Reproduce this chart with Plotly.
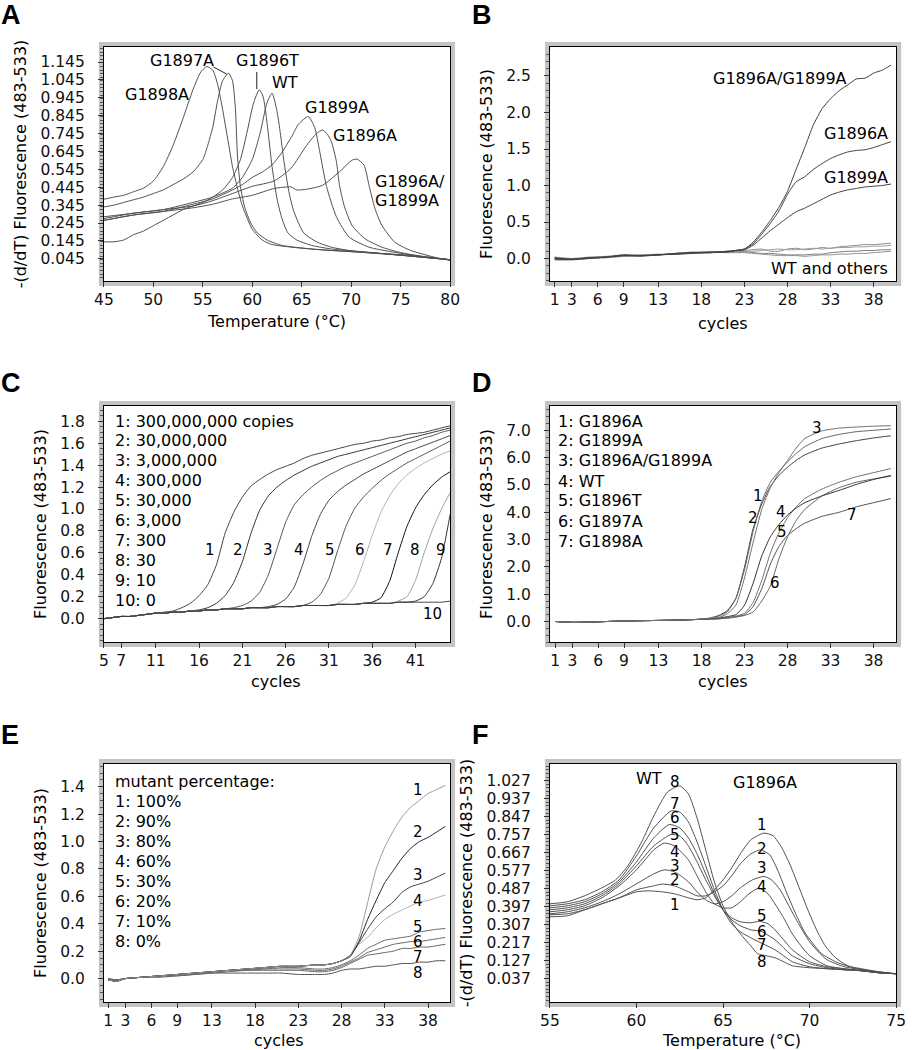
import numpy as np
import plotly.graph_objects as go

# ======================= DATA =======================
# ---- Panel A: melting curves, -(d/dT) fluorescence vs temperature ----
a_g1898a_t = [45, 46, 47, 48, 49, 50, 51, 52, 53, 54, 54.8, 55.4, 56, 56.5, 57, 57.5, 58, 58.5, 59, 59.5, 60, 61, 62, 64, 67, 70, 73, 76, 78, 80]
a_g1898a_v = [0.378, 0.39, 0.40, 0.42, 0.44, 0.48, 0.56, 0.68, 0.83, 0.99, 1.09, 1.12, 1.10, 1.02, 0.88, 0.72, 0.56, 0.44, 0.34, 0.27, 0.21, 0.15, 0.125, 0.11, 0.095, 0.085, 0.075, 0.065, 0.05, 0.04]
a_g1897a_t = [45, 46, 47, 48, 49, 50, 51, 52, 53, 54, 55, 55.5, 56, 56.5, 57, 57.6, 58, 58.3, 58.5, 58.8, 59.2, 59.8, 60.5, 61.5, 63, 66, 70, 75, 80]
a_g1897a_v = [0.335, 0.345, 0.36, 0.375, 0.39, 0.41, 0.43, 0.46, 0.49, 0.53, 0.60, 0.68, 0.78, 0.93, 1.04, 1.083, 1.04, 0.88, 0.62, 0.45, 0.34, 0.25, 0.19, 0.15, 0.12, 0.10, 0.085, 0.065, 0.04]
a_g1896t_t = [45, 46, 47, 48, 49, 50, 51, 52, 53, 54, 55, 56, 57, 58, 58.8, 59.5, 60.1, 60.7, 61.1, 61.5, 62, 62.5, 63, 63.6, 64.5, 66, 68, 71, 75, 80]
a_g1896t_v = [0.14, 0.14, 0.15, 0.18, 0.20, 0.23, 0.26, 0.29, 0.32, 0.34, 0.36, 0.39, 0.43, 0.50, 0.60, 0.76, 0.91, 0.99, 0.95, 0.80, 0.56, 0.38, 0.27, 0.19, 0.15, 0.12, 0.10, 0.085, 0.065, 0.04]
a_wt_t = [45, 48, 51, 54, 56, 58, 59, 60, 60.8, 61.5, 62.0, 62.5, 62.9, 63.2, 63.7, 64.2, 65.2, 66.5, 68, 70, 73, 76, 80]
a_wt_v = [0.27, 0.30, 0.32, 0.36, 0.39, 0.44, 0.50, 0.60, 0.75, 0.92, 0.97, 0.87, 0.72, 0.59, 0.42, 0.31, 0.19, 0.14, 0.11, 0.09, 0.075, 0.06, 0.04]
a_g1899a_t = [45, 48, 51, 54, 56, 58, 59, 60, 61, 62, 63, 64, 64.7, 65.66, 66.3, 66.8, 67.5, 68.5, 69.8, 71.8, 74, 77, 80]
a_g1899a_v = [0.26, 0.29, 0.31, 0.35, 0.38, 0.43, 0.46, 0.50, 0.53, 0.57, 0.64, 0.73, 0.80, 0.84, 0.78, 0.65, 0.45, 0.28, 0.166, 0.11, 0.085, 0.06, 0.04]
a_g1896a_t = [45, 48, 51, 54, 56, 58, 60, 62.2, 63.9, 65.5, 66.5, 67.1, 67.6, 68, 68.5, 68.8, 69.3, 70.1, 71.4, 73.1, 75, 77, 80]
a_g1896a_v = [0.28, 0.30, 0.32, 0.34, 0.37, 0.41, 0.45, 0.48, 0.55, 0.68, 0.746, 0.765, 0.74, 0.70, 0.59, 0.46, 0.34, 0.23, 0.157, 0.11, 0.08, 0.06, 0.04]
a_double_t = [45, 48, 51, 54, 56, 58, 60, 62.2, 63.9, 64.5, 65.5, 67.1, 68.8, 70.1, 70.6, 71.3, 71.8, 72.4, 73.1, 74.4, 76, 78.7, 80]
a_double_v = [0.26, 0.29, 0.31, 0.33, 0.35, 0.38, 0.40, 0.438, 0.447, 0.43, 0.434, 0.456, 0.531, 0.597, 0.602, 0.568, 0.456, 0.326, 0.232, 0.138, 0.092, 0.05, 0.036]
a_xticks = [45, 50, 55, 60, 65, 70, 75, 80]
a_yticks = [0.045, 0.145, 0.245, 0.345, 0.445, 0.545, 0.645, 0.745, 0.845, 0.945, 1.045, 1.145]

# ---- Panel B: amplification, probe assay ----
b_cycles = [1, 3, 5, 7, 9, 11, 13, 15, 17, 19, 21, 22, 23, 24, 25, 26, 27, 28, 29, 30, 31, 32, 33, 34, 35, 36, 37, 38, 39, 40]
b_double = [0.0, -0.01, 0.01, 0.02, 0.04, 0.04, 0.05, 0.07, 0.08, 0.08, 0.09, 0.11, 0.13, 0.22, 0.36, 0.52, 0.70, 0.92, 1.22, 1.52, 1.83, 2.05, 2.19, 2.30, 2.38, 2.46, 2.47, 2.54, 2.58, 2.65]
b_g1896a = [0.01, -0.01, 0.0, 0.02, 0.04, 0.03, 0.05, 0.06, 0.08, 0.09, 0.09, 0.11, 0.13, 0.20, 0.33, 0.48, 0.65, 0.88, 1.05, 1.12, 1.22, 1.30, 1.37, 1.42, 1.46, 1.48, 1.49, 1.52, 1.56, 1.60]
b_g1899a = [-0.01, -0.01, 0.01, 0.02, 0.05, 0.04, 0.05, 0.06, 0.07, 0.08, 0.10, 0.11, 0.12, 0.18, 0.28, 0.38, 0.47, 0.56, 0.64, 0.69, 0.75, 0.81, 0.87, 0.91, 0.94, 0.96, 0.98, 0.99, 1.0, 1.02]
b_wt = [0.02, 0.0, 0.02, 0.03, 0.05, 0.04, 0.05, 0.07, 0.09, 0.08, 0.10, 0.10, 0.11, 0.12, 0.13, 0.10, 0.10, 0.13, 0.14, 0.12, 0.13, 0.15, 0.14, 0.16, 0.17, 0.18, 0.19, 0.19, 0.20, 0.21]
b_g1896t = [0.0, -0.01, 0.0, 0.02, 0.04, 0.05, 0.06, 0.06, 0.08, 0.09, 0.09, 0.10, 0.10, 0.10, 0.11, 0.12, 0.13, 0.12, 0.12, 0.13, 0.14, 0.13, 0.14, 0.15, 0.15, 0.16, 0.16, 0.17, 0.17, 0.18]
b_g1897a = [-0.02, -0.02, 0.0, 0.01, 0.03, 0.04, 0.05, 0.07, 0.08, 0.08, 0.09, 0.09, 0.09, 0.08, 0.07, 0.07, 0.06, 0.05, 0.05, 0.05, 0.06, 0.06, 0.08, 0.09, 0.10, 0.10, 0.11, 0.11, 0.12, 0.12]
b_g1898a = [0.01, -0.01, 0.01, 0.02, 0.03, 0.05, 0.05, 0.06, 0.07, 0.09, 0.08, 0.08, 0.08, 0.07, 0.06, 0.05, 0.04, 0.04, 0.04, 0.03, 0.04, 0.05, 0.05, 0.06, 0.06, 0.07, 0.07, 0.08, 0.09, 0.10]
cyc_xticks = [1, 3, 6, 9, 13, 18, 23, 28, 33, 38]
b_yticks = [0.0, 0.5, 1.0, 1.5, 2.0, 2.5]

# ---- Panel C: dilution series ----
c_cycles = list(range(5, 46))
c_base = [0.00, 0.01, 0.02, 0.02, 0.03, 0.04, 0.05, 0.05, 0.06, 0.06, 0.07, 0.07, 0.08, 0.08, 0.09, 0.09, 0.09, 0.10, 0.10, 0.10,
          0.11, 0.11, 0.11, 0.12, 0.12, 0.12, 0.12, 0.13, 0.13, 0.13, 0.14, 0.14, 0.14, 0.14, 0.15, 0.15, 0.15, 0.15, 0.15, 0.15, 0.16]
c_1 = [0.00, 0.01, 0.02, 0.02, 0.03, 0.04, 0.05, 0.06, 0.07, 0.10, 0.14, 0.21, 0.31, 0.49, 0.78, 0.97, 1.11, 1.21, 1.27, 1.32,
       1.36, 1.39, 1.42, 1.46, 1.49, 1.51, 1.53, 1.55, 1.57, 1.59, 1.60, 1.62, 1.63, 1.65, 1.66, 1.68, 1.69, 1.70, 1.72, 1.74, 1.76]
c_2 = [0.00, 0.01, 0.02, 0.02, 0.03, 0.04, 0.05, 0.05, 0.06, 0.06, 0.07, 0.08, 0.10, 0.14, 0.21, 0.33, 0.52, 0.78, 0.99, 1.12,
       1.20, 1.26, 1.31, 1.35, 1.39, 1.42, 1.45, 1.48, 1.50, 1.52, 1.54, 1.56, 1.58, 1.60, 1.62, 1.64, 1.66, 1.68, 1.70, 1.72, 1.74]
c_3 = c_base[:13] + [0.08, 0.09, 0.10, 0.12, 0.16, 0.24, 0.40, 0.64, 0.88, 1.04, 1.13, 1.20, 1.26, 1.31, 1.35, 1.39, 1.42, 1.45, 1.48, 1.51, 1.54, 1.57, 1.60, 1.62, 1.65, 1.67, 1.70, 1.72]
c_4 = c_base[:17] + [0.10, 0.10, 0.11, 0.13, 0.18, 0.29, 0.50, 0.75, 0.95, 1.08, 1.16, 1.22, 1.27, 1.32, 1.36, 1.40, 1.44, 1.48, 1.52, 1.55, 1.58, 1.61, 1.64, 1.67]
c_5 = c_base[:23] + [0.12, 0.15, 0.22, 0.37, 0.62, 0.85, 1.01, 1.11, 1.19, 1.26, 1.32, 1.37, 1.42, 1.46, 1.50, 1.54, 1.58, 1.62]
c_6 = c_base[:27] + [0.14, 0.19, 0.31, 0.52, 0.76, 0.97, 1.12, 1.23, 1.31, 1.37, 1.42, 1.46, 1.50, 1.53]
c_7 = c_base[:31] + [0.15, 0.19, 0.34, 0.60, 0.84, 1.01, 1.13, 1.22, 1.29, 1.34]
c_8 = c_base[:34] + [0.16, 0.20, 0.35, 0.60, 0.82, 1.00, 1.15]
c_9 = c_base[:36] + [0.16, 0.20, 0.32, 0.55, 0.95]
c_10 = c_base
c_xticks = [5, 7, 11, 16, 21, 26, 31, 36, 41]
c_yticks = [0.0, 0.2, 0.4, 0.6, 0.8, 1.0, 1.2, 1.4, 1.6, 1.8]
c_legend = ["1: 300,000,000 copies", "2: 30,000,000", "3: 3,000,000", "4: 300,000", "5: 30,000",
            "6: 3,000", "7: 300", "8: 30", "9: 10", "10: 0"]

# ---- Panel D: genotypes ----
d_cycles = [1, 3, 5, 7, 9, 11, 13, 15, 17, 18, 19, 20, 21, 22, 23, 24, 25, 26, 27, 28, 29, 30, 32, 34, 36, 38, 40]
d_base = [0.0, -0.03, -0.02, 0.0, 0.02, 0.03, 0.04, 0.05, 0.07]
d_1 = d_base + [0.09, 0.12, 0.20, 0.35, 0.85, 1.90, 3.30, 4.40, 5.10, 5.50, 5.85, 6.15, 6.40, 6.70, 6.85, 6.95, 7.00, 7.05]
d_2 = d_base + [0.09, 0.13, 0.22, 0.40, 0.85, 2.00, 3.40, 4.30, 4.95, 5.35, 5.65, 5.90, 6.10, 6.35, 6.50, 6.62, 6.72, 6.80]
d_3 = d_base + [0.08, 0.11, 0.15, 0.28, 0.60, 1.60, 2.90, 4.10, 4.90, 5.45, 5.90, 6.35, 6.70, 6.98, 7.08, 7.12, 7.15, 7.17]
d_4 = d_base + [0.08, 0.10, 0.13, 0.18, 0.25, 0.60, 1.40, 2.40, 3.10, 3.55, 3.90, 4.15, 4.35, 4.60, 4.80, 5.02, 5.20, 5.35]
d_5 = d_base + [0.08, 0.09, 0.11, 0.14, 0.20, 0.30, 0.70, 1.50, 2.50, 3.25, 3.80, 4.20, 4.50, 4.85, 5.10, 5.30, 5.45, 5.60]
d_6 = d_base + [0.08, 0.09, 0.10, 0.12, 0.16, 0.22, 0.35, 0.75, 1.30, 2.30, 3.10, 3.70, 4.10, 4.60, 4.90, 5.10, 5.22, 5.32]
d_7 = d_base + [0.08, 0.09, 0.10, 0.13, 0.18, 0.25, 0.55, 1.20, 2.10, 2.75, 3.15, 3.40, 3.60, 3.85, 4.00, 4.20, 4.35, 4.50]
d_yticks = [0.0, 1.0, 2.0, 3.0, 4.0, 5.0, 6.0, 7.0]
d_legend = ["1: G1896A", "2: G1899A", "3: G1896A/G1899A", "4: WT", "5: G1896T", "6: G1897A", "7: G1898A"]

# ---- Panel E: mutant percentage amplification ----
e_cycles = [1, 2, 3, 5, 7, 9, 11, 13, 15, 17, 19, 21, 23, 25, 26, 27, 28, 29, 30, 31, 32, 33, 34, 35, 36, 37, 38, 39, 40]
e_base = [-0.01, -0.02, 0.0, 0.01, 0.02, 0.03, 0.04, 0.05, 0.06, 0.07, 0.08, 0.09, 0.09, 0.10, 0.10, 0.11, 0.13]
e_1 = e_base + [0.17, 0.30, 0.55, 0.80, 0.96, 1.08, 1.18, 1.25, 1.30, 1.35, 1.38, 1.41]
e_2 = e_base + [0.16, 0.27, 0.43, 0.57, 0.70, 0.79, 0.88, 0.95, 1.00, 1.03, 1.07, 1.11]
e_3 = e_base + [0.17, 0.26, 0.36, 0.45, 0.51, 0.56, 0.63, 0.67, 0.69, 0.71, 0.74, 0.77]
e_4 = e_base + [0.17, 0.25, 0.30, 0.37, 0.43, 0.47, 0.50, 0.53, 0.56, 0.57, 0.59, 0.61]
e_5 = [-0.01, -0.01, 0.0, 0.01, 0.02, 0.03, 0.04, 0.05, 0.06, 0.07, 0.07, 0.08, 0.08, 0.07, 0.07, 0.08, 0.10,
       0.13, 0.17, 0.22, 0.25, 0.28, 0.29, 0.30, 0.31, 0.34, 0.35, 0.36, 0.365]
e_6 = [0.0, -0.01, 0.0, 0.01, 0.02, 0.03, 0.04, 0.05, 0.06, 0.06, 0.07, 0.07, 0.07, 0.06, 0.06, 0.07, 0.09,
       0.12, 0.15, 0.19, 0.21, 0.23, 0.25, 0.26, 0.27, 0.27, 0.28, 0.29, 0.30]
e_7 = [-0.01, -0.01, 0.0, 0.01, 0.02, 0.02, 0.03, 0.04, 0.05, 0.06, 0.06, 0.06, 0.06, 0.05, 0.05, 0.06, 0.08,
       0.11, 0.14, 0.17, 0.18, 0.19, 0.20, 0.22, 0.22, 0.23, 0.23, 0.24, 0.25]
e_8 = [0.0, -0.01, 0.0, 0.01, 0.01, 0.02, 0.03, 0.04, 0.04, 0.04, 0.04, 0.04, 0.03, 0.03, 0.03, 0.04, 0.06,
       0.07, 0.07, 0.08, 0.09, 0.09, 0.10, 0.11, 0.11, 0.12, 0.12, 0.13, 0.13]
e_yticks = [0.0, 0.2, 0.4, 0.6, 0.8, 1.0, 1.2, 1.4]
e_legend = ["mutant percentage:", "1: 100%", "2: 90%", "3: 80%", "4: 60%", "5: 30%", "6: 20%", "7: 10%", "8: 0%"]

# ---- Panel F: melting curves of mixtures ----
f_1_t = [55, 56, 57, 58, 59, 60, 60.7, 61.5, 62.2, 63, 63.5, 64, 64.5, 65, 65.5, 66, 66.6, 67.36, 67.9, 68.4, 68.9, 69.4, 69.9, 70.4, 70.9, 71.5, 72.2, 73, 74, 75]
f_1_v = [0.345, 0.35, 0.38, 0.41, 0.44, 0.47, 0.475, 0.47, 0.46, 0.44, 0.43, 0.44, 0.48, 0.53, 0.59, 0.66, 0.73, 0.764, 0.75, 0.69, 0.60, 0.49, 0.38, 0.28, 0.20, 0.14, 0.10, 0.085, 0.07, 0.06]
f_2_t = [55, 56, 57, 58, 59, 60, 61, 61.5, 62.2, 63, 63.5, 64, 64.5, 65, 65.5, 66, 66.6, 67.17, 67.7, 68.2, 68.7, 69.2, 69.7, 70.2, 70.7, 71.5, 72.5, 73.5, 75]
f_2_v = [0.355, 0.36, 0.38, 0.41, 0.44, 0.48, 0.50, 0.509, 0.50, 0.47, 0.45, 0.45, 0.47, 0.50, 0.55, 0.61, 0.66, 0.68, 0.655, 0.57, 0.46, 0.36, 0.27, 0.21, 0.16, 0.12, 0.09, 0.075, 0.06]
f_3_t = [55, 56, 57, 58, 59, 60, 61, 61.6, 62.2, 63, 63.5, 64, 64.5, 65, 65.5, 66, 66.7, 67.36, 67.8, 68.3, 68.8, 69.3, 70, 70.5, 71, 72, 73, 74, 75]
f_3_v = [0.36, 0.37, 0.39, 0.42, 0.46, 0.51, 0.56, 0.58, 0.57, 0.52, 0.47, 0.43, 0.41, 0.42, 0.45, 0.49, 0.53, 0.547, 0.53, 0.48, 0.40, 0.32, 0.22, 0.17, 0.13, 0.095, 0.08, 0.065, 0.06]
f_4_t = [55, 56, 57, 58, 59, 60, 61, 61.6, 62.2, 63, 63.5, 64, 64.5, 65, 65.5, 66, 66.5, 67.07, 67.6, 68, 68.5, 69, 69.5, 70, 71, 72, 73, 74, 75]
f_4_v = [0.37, 0.38, 0.40, 0.44, 0.50, 0.58, 0.68, 0.714, 0.70, 0.63, 0.55, 0.47, 0.41, 0.39, 0.39, 0.42, 0.46, 0.489, 0.46, 0.41, 0.34, 0.26, 0.20, 0.15, 0.10, 0.085, 0.075, 0.065, 0.06]
f_5_t = [55, 56, 57, 58, 59, 60, 61, 62, 62.5, 63, 63.5, 64, 64.5, 65, 65.5, 66, 66.6, 67.1, 67.6, 68, 68.5, 69, 70, 71, 72, 73, 74, 75]
f_5_v = [0.38, 0.39, 0.41, 0.45, 0.51, 0.60, 0.70, 0.757, 0.75, 0.70, 0.62, 0.53, 0.45, 0.38, 0.34, 0.32, 0.315, 0.322, 0.31, 0.28, 0.23, 0.18, 0.12, 0.095, 0.085, 0.075, 0.065, 0.06]
f_6_t = [55, 56, 57, 58, 59, 60, 61, 61.9, 62.5, 63, 63.5, 64, 64.5, 65, 65.5, 66, 66.6, 67.2, 68, 68.5, 69, 70, 71, 72, 73, 74, 75]
f_6_v = [0.39, 0.40, 0.42, 0.46, 0.52, 0.62, 0.74, 0.807, 0.79, 0.74, 0.66, 0.56, 0.46, 0.38, 0.33, 0.30, 0.28, 0.272, 0.23, 0.19, 0.15, 0.11, 0.09, 0.08, 0.075, 0.065, 0.06]
f_7_t = [55, 56, 57, 58, 59, 60, 61, 62, 62.5, 63, 63.5, 64, 64.5, 65, 65.5, 66, 66.6, 67.2, 68, 68.5, 69, 70, 71, 72, 73, 74, 75]
f_7_v = [0.40, 0.41, 0.43, 0.47, 0.53, 0.65, 0.79, 0.875, 0.87, 0.82, 0.72, 0.60, 0.48, 0.38, 0.31, 0.27, 0.24, 0.214, 0.18, 0.15, 0.12, 0.095, 0.085, 0.08, 0.075, 0.065, 0.06]
f_8_t = [55, 56, 57, 58, 58.8, 59.5, 60.3, 61, 61.8, 62.5, 63, 63.5, 64, 64.5, 65, 65.5, 66, 66.6, 67, 67.5, 68, 68.5, 69, 70, 71, 72, 73, 74, 75]
f_8_v = [0.41, 0.42, 0.45, 0.49, 0.53, 0.60, 0.72, 0.85, 0.97, 1.0, 0.96, 0.84, 0.68, 0.52, 0.40, 0.32, 0.26, 0.20, 0.16, 0.15, 0.14, 0.12, 0.10, 0.09, 0.085, 0.08, 0.075, 0.065, 0.06]
f_xticks = [55, 60, 65, 70, 75]
f_yticks = [0.037, 0.127, 0.217, 0.307, 0.397, 0.487, 0.577, 0.667, 0.757, 0.847, 0.937, 1.027]

# ======================= LAYOUT HELPERS =======================
W, H = 913, 1050
FONT = "DejaVu Sans"
TICKFONT = dict(family=FONT, size=15.5, color="#111111")
TITLEFONT = dict(family=FONT, size=16, color="#000000")
GRAY_FRAME = "#c4c4c4"


def px(x):
    return x / W


def py(y):
    return 1 - y / H


fig = go.Figure()
shapes = []
annotations = []

# plot-area boxes in pixels: (left, right) / (top, bottom)
LEFT = (96, 450)
RIGHT = (552, 906)
ROW1 = (47, 281)
ROW2 = (406, 642)
ROW3 = (764, 1002)


def setup_axes(n, xb, yb, xr, yr, xt, xtt, yt, ytt, yminor_step, ytitle):
    xs = "xaxis" if n == 1 else f"xaxis{n}"
    ys = "yaxis" if n == 1 else f"yaxis{n}"
    xa = "x" if n == 1 else f"x{n}"
    ya = "y" if n == 1 else f"y{n}"
    common = dict(showline=True, mirror=True, linecolor="black", linewidth=1,
                  ticks="outside", ticklen=5, tickwidth=1, tickcolor="#333333",
                  showgrid=False, zeroline=False, fixedrange=True, tickfont=TICKFONT,
                  tickmode="array")
    y0, y1 = yr
    k0 = np.ceil(y0 / yminor_step - 1e-9)
    minors = [round((k0 + i) * yminor_step + 0.0, 4) for i in range(int((y1 - y0) / yminor_step) + 2)]
    minors = [m for m in minors if y0 <= m <= y1]
    fig.layout[xs] = dict(common, domain=[px(xb[0]), px(xb[1])], range=xr, anchor=ya,
                          tickvals=xt, ticktext=xtt, ticklabelstandoff=-1)
    fig.layout[ys] = dict(common, domain=[py(yb[1]), py(yb[0])], range=yr, anchor=xa,
                          tickvals=yt, ticktext=ytt, ticklabelstandoff=10,
                          title=dict(text=ytitle, font=TITLEFONT, standoff=9),
                          minor=dict(tickmode="array", tickvals=minors, ticks="outside",
                                     ticklen=3, tickcolor="#555555", showgrid=False))
    # gray frame around the plot area
    shapes.append(dict(type="rect", xref="paper", yref="paper", layer="below",
                       x0=px(xb[0] - 2.5), x1=px(xb[1] + 2.5), y0=py(yb[1] + 2.5), y1=py(yb[0] - 2.5),
                       line=dict(color=GRAY_FRAME, width=5), fillcolor="rgba(0,0,0,0)"))


def add_line(n, x, y, color="#555555", width=1, smooth=0.6):
    xa = "x" if n == 1 else f"x{n}"
    ya = "y" if n == 1 else f"y{n}"
    fig.add_trace(go.Scatter(x=x, y=y, mode="lines", xaxis=xa, yaxis=ya, showlegend=False,
                             hoverinfo="skip",
                             line=dict(color=color, width=width, shape="spline", smoothing=smooth)))


def text(t, x, y, size=16, xanchor="center", bold=False, family=FONT):
    annotations.append(dict(text=(f"<b>{t}</b>" if bold else t), x=px(x), y=py(y),
                            xref="paper", yref="paper", showarrow=False, xanchor=xanchor,
                            yanchor="middle", borderpad=0,
                            font=dict(family=family, size=size, color="#000000")))


def fmt(vals, nd):
    return [f"{v:.{nd}f}" for v in vals]


YT_DERIV = "-(d/dT) Fluorescence (483-533)"
YT_FLUO = "Fluorescence (483-533)"

# ---------- axes ----------
setup_axes(1, LEFT, ROW1, [45, 80], [-0.079, 1.229], a_xticks, [str(v) for v in a_xticks],
           a_yticks, fmt(a_yticks, 3), 0.02, YT_DERIV)
setup_axes(2, RIGHT, ROW1, [0.45, 40.6], [-0.308, 2.897], cyc_xticks, [str(v) for v in cyc_xticks],
           b_yticks, fmt(b_yticks, 1), 0.1, YT_FLUO)
setup_axes(3, LEFT, ROW2, [5, 45], [-0.213, 1.94], c_xticks, [str(v) for v in c_xticks],
           c_yticks, fmt(c_yticks, 1), 0.05, YT_FLUO)
setup_axes(4, RIGHT, ROW2, [0.385, 40.62], [-0.75, 7.89], cyc_xticks, [str(v) for v in cyc_xticks],
           d_yticks, fmt(d_yticks, 1), 0.25, YT_FLUO)
setup_axes(5, LEFT, ROW3, [0.51, 40.56], [-0.171, 1.566], cyc_xticks, [str(v) for v in cyc_xticks],
           e_yticks, fmt(e_yticks, 1), 0.05, YT_FLUO)
setup_axes(6, RIGHT, ROW3, [55, 75], [-0.0815, 1.11], f_xticks, [str(v) for v in f_xticks],
           f_yticks, fmt(f_yticks, 3), 0.018, YT_DERIV)

# ---------- traces ----------
for t, v in [(a_g1898a_t, a_g1898a_v), (a_g1897a_t, a_g1897a_v), (a_g1896t_t, a_g1896t_v),
             (a_wt_t, a_wt_v), (a_g1899a_t, a_g1899a_v), (a_g1896a_t, a_g1896a_v),
             (a_double_t, a_double_v)]:
    add_line(1, t, v, "#505050")

for v, col in [(b_wt, "#8a8a8a"), (b_g1896t, "#9a9a9a"), (b_g1897a, "#7a7a7a"), (b_g1898a, "#8f8f8f"),
               (b_g1899a, "#404040"), (b_g1896a, "#404040"), (b_double, "#404040")]:
    add_line(2, b_cycles, v, col, smooth=0.5)

for v, col in [(c_10, "#444444"), (c_1, "#444444"), (c_2, "#333333"), (c_3, "#555555"), (c_4, "#444444"),
               (c_5, "#555555"), (c_6, "#b0b0b0"), (c_7, "#111111"), (c_8, "#a0a0a0"), (c_9, "#333333")]:
    add_line(3, c_cycles, v, col, smooth=0.5)

for v, col in [(d_7, "#505050"), (d_6, "#666666"), (d_5, "#707070"), (d_4, "#333333"),
               (d_2, "#404040"), (d_1, "#666666"), (d_3, "#707070")]:
    add_line(4, d_cycles, v, col, smooth=0.5)

for v, col in [(e_8, "#505050"), (e_7, "#666666"), (e_6, "#666666"), (e_5, "#6a6a6a"),
               (e_4, "#b0b0b0"), (e_3, "#404040"), (e_2, "#222222"), (e_1, "#9a9a9a")]:
    add_line(5, e_cycles, v, col, smooth=0.5)

for t, v in [(f_1_t, f_1_v), (f_2_t, f_2_v), (f_3_t, f_3_v), (f_4_t, f_4_v),
             (f_5_t, f_5_v), (f_6_t, f_6_v), (f_7_t, f_7_v), (f_8_t, f_8_v)]:
    add_line(6, t, v, "#505050")

# ---------- panel letters ----------
for L, x, y in [("A", -10, 15), ("B", 471, 15), ("C", -10, 383), ("D", 471, 383), ("E", -10, 735), ("F", 471, 735)]:
    text(L, x, y, size=27, bold=True, family="Liberation Sans", xanchor="left")

# ---------- x axis titles ----------
text("Temperature (°C)", 272, 321)
text("cycles", 729, 323)
text("cycles", 272, 681)
text("cycles", 729, 681)
text("cycles", 275, 1040)
text("Temperature (°C)", 738, 1040)

# ---------- panel A labels ----------
text("G1897A", 176, 60)
text("G1896T", 263, 60)
text("WT", 281, 82)
text("G1898A", 150.5, 94)
text("G1899A", 334, 107)
text("G1896A", 362.5, 135)
text("G1896A/", 372, 181, xanchor="left")
text("G1899A", 372, 201, xanchor="left")
shapes.append(dict(type="line", xref="paper", yref="paper", x0=px(208), y0=py(67), x1=px(221.5), y1=py(74),
                   line=dict(color="#222222", width=1)))
shapes.append(dict(type="line", xref="paper", yref="paper", x0=px(252.3), y0=py(72), x1=px(252.3), y1=py(89),
                   line=dict(color="#222222", width=1)))

# ---------- panel B labels ----------
text("G1896A/G1899A", 787, 78)
text("G1896A", 865, 133)
text("G1899A", 865, 177)
text("WT and others", 837.5, 268)

# ---------- panel C labels ----------
for i, s in enumerate(c_legend):
    text(s, 106, 421 + 19.95 * i, xanchor="left")
for s, x in zip(["1", "2", "3", "4", "5", "6", "7", "8", "9"],
                [204, 233.3, 264, 295, 327.3, 357.7, 386.7, 414, 440.7]):
    text(s, x, 550, size=15)
text("10", 431.7, 613.5, size=15)

# ---------- panel D labels ----------
for i, s in enumerate(d_legend):
    text(s, 559, 421 + 20 * i, xanchor="left")
for s, x, y in [("3", 825, 428.3), ("1", 765, 496), ("2", 760, 517.7), ("4", 788.3, 511.7),
                ("5", 789.3, 531.7), ("6", 782.3, 583.3), ("7", 861, 515)]:
    text(s, x, y, size=15)

# ---------- panel E labels ----------
for i, s in enumerate(e_legend):
    text(s, 106.7, 781 + 20 * i, xanchor="left")
for s, y in zip(["1", "2", "3", "4", "5", "6", "7", "8"], [790, 831.7, 875, 901, 926.7, 941.7, 956.7, 972.7]):
    text(s, 416.7, y, size=15)

# ---------- panel F labels ----------
text("WT", 653.3, 778.3)
text("G1896A", 771.7, 782.3)
for s, y in zip(["8", "7", "6", "5", "4", "3", "2", "1"], [781.5, 803.7, 818, 834.7, 852, 866, 880.3, 904.7]):
    text(s, 680.3, y, size=15)
for s, y in zip(["1", "2", "3", "4", "5", "6", "7", "8"], [825.3, 848.7, 868, 887, 916, 932, 944.7, 962]):
    text(s, 768.7, y, size=15)

fig.update_layout(width=W, height=H, autosize=False, margin=dict(l=0, r=0, t=0, b=0),
                  paper_bgcolor="white", plot_bgcolor="white", showlegend=False,
                  hovermode=False, shapes=shapes, annotations=annotations)

fig.write_html("out.html", config={"displayModeBar": False},
               post_script="document.body.style.margin='0px';document.body.style.overflow='hidden';")
